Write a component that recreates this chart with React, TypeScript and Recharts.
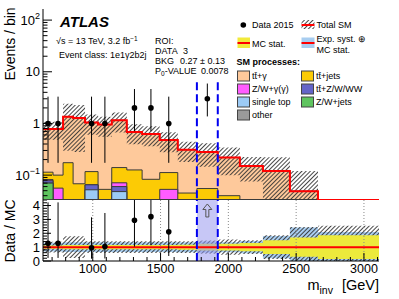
import React from "react";
import {
  ComposedChart, Area, Line, Scatter, ErrorBar, XAxis, YAxis,
  ReferenceLine, ReferenceArea,
} from "recharts";

const FONT = '"Liberation Sans", Arial, Helvetica, sans-serif';

// variable-width m_inv bins (GeV)
const binEdges = [633, 707, 781, 855, 943, 1039, 1140, 1251, 1364, 1494, 1627, 1768, 1922, 2085, 2255, 2454, 2661, 2875, 3111];

// SM expectation per bin (events)
const ttGamma = [0.666, 0.68, 1.18, 1.21, 0.93, 0.9, 1.01, 0.554, 0.542, 0.364, 0.265, 0.225, 0.18, 0.15, 0.12, 0.049, 0.012, 0.01];
const ttJets = [0.032, 0.044, 0.174, 0.068, 0.052, 0.053, 0.069, 0.126, 0.083, 0.059, 0.045, 0.055, 0.04, 0, 0, 0, 0, 0];
const zwGamma = [0.004, 0.056, 0, 0, 0, 0, 0.011, 0, 0, 0.053, 0, 0, 0, 0, 0, 0, 0, 0];
const ttV = [0.008, 0, 0, 0, 0.013, 0, 0.012, 0, 0, 0, 0, 0, 0, 0, 0, 0, 0, 0];
const singleTop = [0, 0, 0, 0, 0.052, 0, 0.048, 0, 0, 0, 0, 0, 0, 0, 0, 0, 0, 0];
const zwJets = [0.07, 0, 0, 0, 0, 0, 0, 0, 0, 0, 0, 0, 0, 0, 0, 0, 0, 0];
const other = [0, 0, 0, 0, 0, 0, 0, 0, 0, 0, 0, 0, 0, 0, 0, 0, 0, 0];

// relative uncertainties per bin
const totUnc = [0.38, 0.38, 0.78, 0.78, 0.42, 0.42, 0.42, 0.42, 0.42, 0.42, 0.42, 0.48, 0.55, 0.5, 0.85, 1.45, 1.55, 1.55];
const systUnc = [0.32, 0.32, 0.35, 0.35, 0.35, 0.35, 0.35, 0.35, 0.35, 0.35, 0.36, 0.4, 0.36, 0.44, 0.8, 1.42, 1.1, 1.1];
const statUnc = [0.12, 0.12, 0.15, 0.15, 0.15, 0.15, 0.15, 0.15, 0.15, 0.15, 0.18, 0.25, 0.25, 0.29, 0.49, 0.7, 0.85, 0.85];

// observed events (Data 2015)
const dataCounts = [1, 1, 0, 0, 1, 1, 0, 2, 2, 1, 0, 3, 0, 0, 0, 0, 0, 0];
const poissonLow = [0, 0.173, 0.708, 1.367];
const poissonHigh = [1.841, 3.3, 4.638, 5.918];

const roiRange = [1768, 1922];
const roiLineTop = 6.3;

const xMajorTicks = [1000, 1500, 2000, 2500, 3000];
const yMajorTicks = [0.1, 1, 10, 100];
const yTickLabels = ["10^-1", "1", "10", "10^2"];
const rMajorTicks = [0, 1, 2, 3, 4];

const X_MIN = 633, X_MAX = 3111;
const Y_MIN = 0.033, Y_MAX = 164;
const R_MAX = 4.4;

const xAllTicks: number[] = [];
for (let v = 700; v <= 3100; v += 100) xAllTicks.push(v);
const yAllTicks: number[] = [...yMajorTicks];
[-2, -1, 0, 1, 2].forEach((e) => {
  for (let k = 2; k <= 9; k++) {
    const v = k * Math.pow(10, e);
    if (v >= Y_MIN && v <= Y_MAX) yAllTicks.push(v);
  }
});
yAllTicks.sort((a, b) => a - b);
const rAllTicks: number[] = [];
for (let i = 0; i <= 22; i++) rAllTicks.push(Math.round(i * 2) / 10);

const layers = [
  { key: "other", values: other, color: "#9a9a9a" },
  { key: "zwJets", values: zwJets, color: "#5fc45f" },
  { key: "singleTop", values: singleTop, color: "#9ccbf6" },
  { key: "ttV", values: ttV, color: "#6464c8" },
  { key: "zwGamma", values: zwGamma, color: "#ff5cff" },
  { key: "ttJets", values: ttJets, color: "#fccb05" },
  { key: "ttGamma", values: ttGamma, color: "#fec99b" },
];

const nBins = binEdges.length - 1;
const rows = binEdges.map((x, i) => {
  const b = Math.min(i, nBins - 1);
  const row: any = { x };
  let cum = 0;
  layers.forEach((l) => {
    cum += l.values[b];
    row[l.key] = cum;
  });
  row.total = cum;
  const t = totUnc[b], s = systUnc[b], st = statUnc[b];
  row.band = [Math.max(cum * (1 - t), Y_MIN), Math.max(cum * (1 + t), Y_MIN)];
  row.rTot = [Math.max(1 - t, 0), Math.min(1 + t, R_MAX)];
  row.rSys = [Math.max(1 - s, 0), Math.min(1 + s, R_MAX)];
  row.rStat = [Math.max(1 - st, 0), Math.min(1 + st, R_MAX)];
  return row;
});

const centers = dataCounts.map((_, i) => (binEdges[i] + binEdges[i + 1]) / 2);
const totals = rows.slice(0, nBins).map((r) => r.total);

const dataPoints = dataCounts
  .map((n, i) => ({ x: centers[i], y: n, err: [n - poissonLow[n], poissonHigh[n] - n] }))
  .filter((p) => p.y > 0);

const ratioPoints = dataCounts
  .map((n, i) => {
    const r = n / totals[i];
    const lo = poissonLow[n] / totals[i];
    const hi = Math.min(poissonHigh[n] / totals[i], R_MAX);
    return { x: centers[i], y: r, err: [r - lo, hi - r], n };
  })
  .filter((p) => p.n > 0 && p.y <= R_MAX);

const arrowPoints = dataCounts
  .map((n, i) => ({ x: centers[i], y: R_MAX * 0.82, r: n / totals[i] }))
  .filter((p) => p.r > R_MAX);

const hatch = (id: string) => (
  <pattern id={id} patternUnits="userSpaceOnUse" width={3} height={3} patternTransform="rotate(45)">
    <line x1={1.5} y1={0} x2={1.5} y2={3} stroke="#333" strokeWidth={0.9} />
  </pattern>
);

const supLabel = (s: string) => {
  const [base, exp] = s.split("^");
  return (
    <>
      {base}
      {exp && (
        <tspan dy={-5.5} fontSize={9}>
          {exp.replace("-", "−")}
        </tspan>
      )}
    </>
  );
};

// inward tick marks drawn by the tick renderer (tickSize 0 puts x/y on the axis line)
const makeTick =
  (side: string, isMajor: (v: number) => boolean, majLen: number, minLen: number, label?: (v: number, x: number, y: number) => React.ReactNode) =>
  (p: any) => {
    const { x, y } = p;
    const v = p.payload.value;
    const major = isMajor(v);
    const len = major ? majLen : minLen;
    let x2 = x, y2 = y;
    if (side === "left") x2 = x + len;
    if (side === "right") x2 = x - len;
    if (side === "top") y2 = y + len;
    if (side === "bottom") y2 = y - len;
    return (
      <g>
        <line x1={x} y1={y} x2={x2} y2={y2} stroke="#000" strokeWidth={1} />
        {label && major ? label(v, x, y) : null}
      </g>
    );
  };

const isXMajor = (v: number) => xMajorTicks.includes(v);
const isYMajor = (v: number) => yMajorTicks.includes(v);
const isRMajor = (v: number) => rMajorTicks.includes(v);

const yLabel = (v: number, x: number, y: number) => (
  <text x={x - 3} y={y + 4.5} textAnchor="end" fontSize={13} fontFamily={FONT} fill="#000">
    {supLabel(yTickLabels[yMajorTicks.indexOf(v)])}
  </text>
);
const rLabel = (v: number, x: number, y: number) => (
  <text x={x - 3} y={y + 4.5} textAnchor="end" fontSize={13} fontFamily={FONT} fill="#000">
    {v}
  </text>
);
const xLabel = (v: number, x: number, y: number) => (
  <text x={x} y={y + 12} textAnchor="middle" fontSize={12.5} fontFamily={FONT} fill="#000">
    {v}
  </text>
);

const dotShape = (p: any) => <circle cx={p.cx} cy={p.cy} r={2.8} fill="#000" />;
const arrowShape = (p: any) => {
  const { cx, cy } = p;
  const d = `M${cx},${cy - 7} L${cx + 4.5},${cy - 1.5} L${cx + 1.5},${cy - 1.5} L${cx + 1.5},${cy + 6} L${cx - 1.5},${cy + 6} L${cx - 1.5},${cy - 1.5} L${cx - 4.5},${cy - 1.5} Z`;
  return <path d={d} fill="none" stroke="#555" strokeWidth={1} />;
};

const axisCommon = { tickSize: 0, tickMargin: 0, tickLine: false, axisLine: { stroke: "#000" }, interval: 0 as const };

function TopPanel() {
  return (
    <ComposedChart width={399} height={200} data={rows} margin={{ top: 9, right: 20, bottom: 0, left: 0 }}>
      <defs>{hatch("hatchTop")}</defs>
      <XAxis dataKey="x" type="number" domain={[X_MIN, X_MAX]} allowDataOverflow ticks={xAllTicks} height={0}
        {...axisCommon} tick={makeTick("bottom", isXMajor, 9, 4.5)} />
      <XAxis xAxisId="top" orientation="top" type="number" domain={[X_MIN, X_MAX]} allowDataOverflow ticks={xAllTicks} height={0}
        {...axisCommon} tick={makeTick("top", isXMajor, 9, 4.5)} />
      <YAxis type="number" scale="log" domain={[Y_MIN, Y_MAX]} allowDataOverflow ticks={yAllTicks} width={43}
        {...axisCommon} tick={makeTick("left", isYMajor, 9, 4.5, yLabel)} />
      <YAxis yAxisId="right" orientation="right" type="number" scale="log" domain={[Y_MIN, Y_MAX]} allowDataOverflow ticks={yAllTicks} width={0}
        {...axisCommon} tick={makeTick("right", isYMajor, 9, 4.5)} />
      {[...layers].reverse().map((l) => (
        <Area key={l.key} type="stepAfter" dataKey={(r: any) => [Y_MIN, Math.max(r[l.key], Y_MIN)]}
          fill={l.color} fillOpacity={1} stroke="#3a3a3a" strokeWidth={1} isAnimationActive={false} />
      ))}
      <Area type="stepAfter" dataKey="band" fill="url(#hatchTop)" fillOpacity={1} stroke="none" isAnimationActive={false} />
      <Line type="stepAfter" dataKey={(r: any) => Math.max(r.total, Y_MIN)} stroke="#ff0000" strokeWidth={2}
        dot={false} isAnimationActive={false} />
      {roiRange.map((x) => (
        <ReferenceLine key={x} segment={[{ x, y: roiLineTop }, { x, y: Y_MIN }]} stroke="#0000f0" strokeWidth={2} strokeDasharray="8 4" />
      ))}
      <Scatter data={dataPoints} dataKey="y" shape={dotShape} isAnimationActive={false}>
        <ErrorBar dataKey="err" direction="y" width={0} stroke="#000" strokeWidth={1} />
      </Scatter>
    </ComposedChart>
  );
}

function RatioPanel() {
  return (
    <ComposedChart width={399} height={109} data={rows} margin={{ top: 10, right: 20, bottom: 0, left: 0 }}>
      <defs>{hatch("hatchRatio")}</defs>
      <XAxis dataKey="x" type="number" domain={[X_MIN, X_MAX]} allowDataOverflow ticks={xAllTicks} height={38}
        {...axisCommon} tick={makeTick("bottom", isXMajor, 8, 4, xLabel)} />
      <XAxis xAxisId="top" orientation="top" type="number" domain={[X_MIN, X_MAX]} allowDataOverflow ticks={xAllTicks} height={0}
        {...axisCommon} tick={makeTick("top", isXMajor, 8, 4)} />
      <YAxis type="number" domain={[0, R_MAX]} allowDataOverflow ticks={rAllTicks} width={43}
        {...axisCommon} tick={makeTick("left", isRMajor, 8, 4, rLabel)} />
      <YAxis yAxisId="right" orientation="right" type="number" domain={[0, R_MAX]} allowDataOverflow ticks={rAllTicks} width={0}
        {...axisCommon} tick={makeTick("right", isRMajor, 8, 4)} />
      {xMajorTicks.map((t) => (
        <ReferenceLine key={t} x={t} stroke="#8a8a8a" strokeDasharray="1 2" />
      ))}
      <Area type="stepAfter" dataKey="rSys" fill="#a8cdf0" fillOpacity={1} stroke="none" isAnimationActive={false} />
      <Area type="stepAfter" dataKey="rTot" fill="url(#hatchRatio)" fillOpacity={1} stroke="none" isAnimationActive={false} />
      <Area type="stepAfter" dataKey="rStat" fill="#ecea3c" fillOpacity={1} stroke="none" isAnimationActive={false} />
      <ReferenceLine y={1} stroke="#ff0000" strokeWidth={2} />
      <ReferenceArea x1={roiRange[0]} x2={roiRange[1]} y1={0} y2={R_MAX} fill="#9999ee" fillOpacity={0.55} stroke="none" />
      {roiRange.map((x) => (
        <ReferenceLine key={x} x={x} stroke="#0000f0" strokeWidth={2} strokeDasharray="8 4" />
      ))}
      <Scatter data={ratioPoints} dataKey="y" shape={dotShape} isAnimationActive={false}>
        <ErrorBar dataKey="err" direction="y" width={0} stroke="#000" strokeWidth={1} />
      </Scatter>
      <Scatter data={arrowPoints} dataKey="y" shape={arrowShape} isAnimationActive={false} />
    </ComposedChart>
  );
}

const legendLeft = [
  { label: "tt̄+γ", color: "#fec99b" },
  { label: "Z/W+γ(γ)", color: "#ff5cff" },
  { label: "single top", color: "#9ccbf6" },
  { label: "other", color: "#9a9a9a" },
];
const legendRight = [
  { label: "tt̄+jets", color: "#fccb05" },
  { label: "tt̄+Z/W/WW", color: "#6464c8" },
  { label: "Z/W+jets", color: "#5fc45f" },
];
const rowY = [76, 89, 102, 115];

function Overlay() {
  return (
    <svg width={399} height={299} style={{ position: "absolute", left: 0, top: 0, pointerEvents: "none" }} fontFamily={FONT}>
      <defs>{hatch("hatchLegend")}</defs>
      <text x={60} y={27} fontSize={15} fontWeight="bold" fontStyle="italic">ATLAS</text>
      <text x={56} y={44} fontSize={9}>
        {"√s = 13 TeV, 3.2 fb"}
        <tspan dy={-3.5} fontSize={6.5}>{"−1"}</tspan>
      </text>
      <text x={59} y={58} fontSize={9}>{"Event class: 1e1γ2b2j"}</text>
      <text x={155} y={43.5} fontSize={9}>ROI:</text>
      <text x={155} y={53.5} fontSize={9}>DATA</text>
      <text x={183} y={53.5} fontSize={9}>3</text>
      <text x={155} y={64} fontSize={9}>BKG</text>
      <text x={180} y={64} fontSize={9}>{"0.27 ± 0.13"}</text>
      <text x={155} y={74} fontSize={9}>
        P<tspan dy={2} fontSize={6.5}>0</tspan>
        <tspan dy={-2}>-VALUE</tspan>
      </text>
      <text x={201} y={74} fontSize={9}>0.0078</text>

      {/* legend */}
      <circle cx={243.3} cy={25} r={2.8} fill="#000" />
      <text x={252} y={28} fontSize={9}>Data 2015</text>
      <rect x={301.5} y={20} width={13} height={9} fill="url(#hatchLegend)" />
      <line x1={301.5} x2={314.5} y1={25} y2={25} stroke="#ff0000" strokeWidth={2} />
      <text x={316.5} y={28} fontSize={9}>Total SM</text>
      <rect x={237.5} y={37.5} width={12.5} height={10.5} fill="#f2ea3a" />
      <line x1={237.5} x2={250} y1={43} y2={43} stroke="#ff0000" strokeWidth={2} />
      <text x={252} y={46.5} fontSize={9}>MC stat.</text>
      <rect x={301.5} y={37.5} width={13} height={10.5} fill="#a8cdf0" />
      <line x1={301.5} x2={314.5} y1={43} y2={43} stroke="#ff0000" strokeWidth={2} />
      <text x={316.5} y={41.5} fontSize={9}>{"Exp. syst. ⊕"}</text>
      <text x={316.5} y={52.5} fontSize={9}>MC stat.</text>
      <text x={236.5} y={65} fontSize={9} fontWeight="bold">SM processes:</text>
      {legendLeft.map((e, i) => (
        <g key={e.label}>
          <rect x={237.5} y={rowY[i] - 5} width={12} height={10} fill={e.color} stroke="#444" strokeWidth={1} />
          <text x={252} y={rowY[i] + 3.2} fontSize={9}>{e.label}</text>
        </g>
      ))}
      {legendRight.map((e, i) => (
        <g key={e.label}>
          <rect x={301.5} y={rowY[i] - 5} width={12} height={10} fill={e.color} stroke="#444" strokeWidth={1} />
          <text x={316} y={rowY[i] + 3.2} fontSize={9}>{e.label}</text>
        </g>
      ))}

      {/* axis titles */}
      <text transform="translate(14.5,44) rotate(-90)" textAnchor="middle" fontSize={14}>Events / bin</text>
      <text transform="translate(14.5,231) rotate(-90)" textAnchor="middle" fontSize={14}>Data / MC</text>
      <text x={379} y={290} textAnchor="end" fontSize={14.5}>
        m<tspan dy={4} fontSize={10.5}>inv</tspan>
        <tspan dx={9} dy={-4}>[GeV]</tspan>
      </text>
    </svg>
  );
}

export default function App() {
  return (
    <div style={{ position: "absolute", left: 0, top: 0, width: 399, height: 299, background: "#fff" }}>
      <div style={{ position: "absolute", left: 0, top: 190 }}>
        <RatioPanel />
      </div>
      <div style={{ position: "absolute", left: 0, top: 0 }}>
        <TopPanel />
      </div>
      <Overlay />
    </div>
  );
}
